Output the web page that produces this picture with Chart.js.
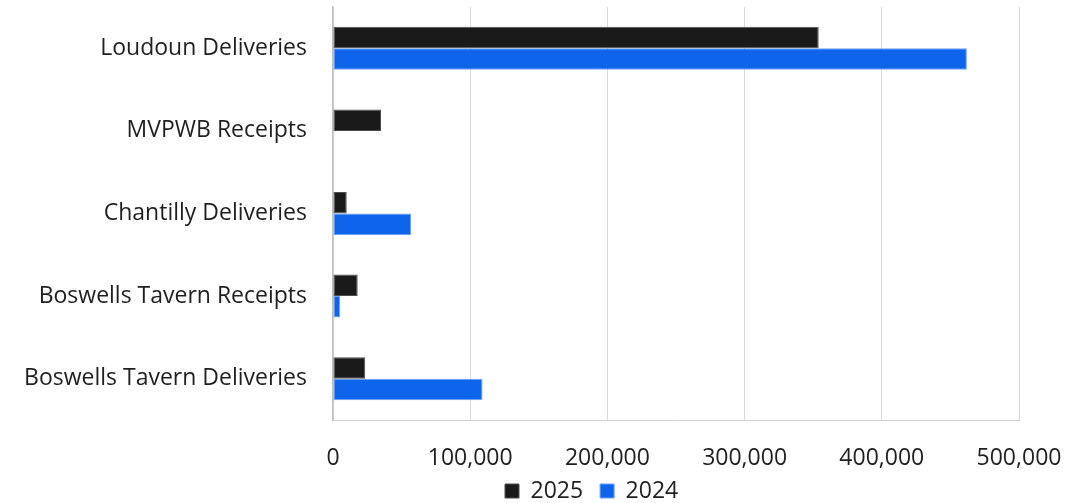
<!DOCTYPE html>
<html>
<head>
<meta charset="utf-8">
<script src="https://cdn.jsdelivr.net/npm/chart.js@4.4.1/dist/chart.umd.min.js"></script>
<style>
  html, body { margin: 0; padding: 0; background: #ffffff; }
  #wrap { width: 1089px; height: 503px; position: relative; }
</style>
</head>
<body>
<div id="wrap"><canvas id="c" width="1089" height="503"></canvas></div>
<script>
const categories = ["Loudoun Deliveries", "MVPWB Receipts", "Chantilly Deliveries", "Boswells Tavern Receipts", "Boswells Tavern Deliveries"];
const values2025 = [354000, 35000, 10000, 18000, 23500];
const values2024 = [462000, null, 57000, 5200, 109000];
const xTicks = [0, 100000, 200000, 300000, 400000, 500000];
const seriesNames = ["2025", "2024"];

const textColor = "#1f1f1f";
const fontFamily = "'Open Sans', Lato, sans-serif";
const FS = 23;

function fmt(v) { return String(Math.round(v)).replace(/\B(?=(\d{3})+(?!\d))/g, ","); }

const legendPlace = {
  id: "legendPlace",
  afterLayout(chart) {
    const lg = chart.legend;
    if (!lg || !lg.lineWidths) return;
    const pad = lg.options.labels.padding;
    const firstBoxLeft = (lg.left + pad + lg.right - lg.lineWidths[0]) / 2;
    const dx = 505 - firstBoxLeft;
    lg.left += dx; lg.right += dx;
    const targetTop = 491 - FS / 2 - pad;
    const dy = targetTop - lg.top;
    lg.top += dy; lg.bottom += dy;
  }
};

new Chart(document.getElementById("c"), {
  type: "bar",
  data: {
    labels: categories,
    datasets: [
      { label: seriesNames[0], data: values2025, backgroundColor: "#1a1a1a", borderColor: "#4d4d4d", borderWidth: 1, borderSkipped: false, categoryPercentage: 0.52, barPercentage: 1.0 },
      { label: seriesNames[1], data: values2024, backgroundColor: "#0e64eb", borderColor: "#6ea3f2", borderWidth: 1, borderSkipped: false, categoryPercentage: 0.52, barPercentage: 1.0 }
    ]
  },
  plugins: [legendPlace],
  options: {
    indexAxis: "y",
    responsive: false,
    animation: false,
    devicePixelRatio: 1,
    layout: { autoPadding: false, padding: { top: 7, right: 70, left: 0, bottom: -19 } },
    plugins: {
      tooltip: { enabled: false },
      legend: {
        position: "bottom",
        labels: {
          boxWidth: 14, boxHeight: 14, padding: 17,
          color: textColor,
          font: { family: fontFamily, size: FS }
        }
      }
    },
    scales: {
      x: {
        min: 0, max: 500000,
        afterBuildTicks: (s) => { s.ticks = xTicks.map(v => ({ value: v })); },
        afterFit: (s) => { s.height = 52; },
        grid: { color: "#d9d9d9", lineWidth: 1, drawTicks: false },
        border: { display: true, color: "#d0d0d0" },
        ticks: {
          padding: 25,
          color: textColor,
          font: { family: fontFamily, size: FS },
          maxRotation: 0,
          callback: (v) => fmt(v)
        }
      },
      y: {
        afterFit: (s) => { s.width = 333; },
        grid: { display: true, drawOnChartArea: false, drawTicks: true, tickLength: 26, tickColor: "rgba(0,0,0,0)" },
        border: { display: true, color: "#bfbfbf", width: 1.5 },
        ticks: {
          padding: 0,
          color: textColor,
          font: { family: fontFamily, size: FS, lineHeight: 0.5 }
        }
      }
    }
  }
});
</script>
</body>
</html>
